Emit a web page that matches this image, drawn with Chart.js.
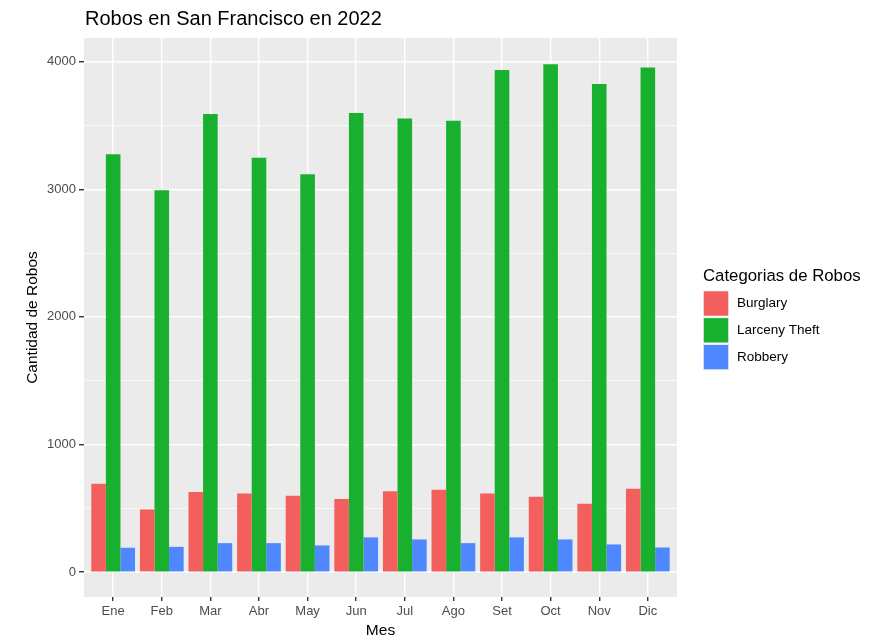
<!DOCTYPE html>
<html><head><meta charset="utf-8">
<script src="https://cdn.jsdelivr.net/npm/chart.js@4"></script>
<style>html,body{margin:0;padding:0;background:#fff}</style>
</head><body>
<canvas id="c" width="885" height="638"></canvas>
<script>
const months = ['Ene','Feb','Mar','Abr','May','Jun','Jul','Ago','Set','Oct','Nov','Dic'];
const burglary = [692,491,627,616,598,572,634,645,616,590,535,653];
const larceny = [3275,2993,3590,3246,3118,3598,3554,3536,3935,3980,3825,3953];
const robbery = [191,198,227,227,209,272,256,227,272,256,217,193];
const yTicks = [0,500,1000,1500,2000,2500,3000,3500,4000];
const seriesNames = ['Burglary','Larceny Theft','Robbery'];
const seriesColors = ['#F25F5C','#18B02E','#4F88FE'];
const chartTitle = 'Robos en San Francisco en 2022';
const xTitle = 'Mes';
const yTitle = 'Cantidad de Robos';
const legendTitle = 'Categorias de Robos';

const FONT = "'Liberation Sans', Arial, Helvetica, sans-serif";
const allSeries = [burglary, larceny, robbery];

const panelBg = {
  id: 'panelBg',
  beforeDraw(chart) {
    const {ctx, chartArea: a} = chart;
    ctx.save();
    ctx.fillStyle = '#EBEBEB';
    ctx.fillRect(a.left, a.top, a.right - a.left, a.bottom - a.top);
    ctx.restore();
  }
};

const extras = {
  id: 'extras',
  afterDraw(chart) {
    const {ctx, chartArea: a} = chart;
    ctx.save();
    ctx.fillStyle = '#000';
    ctx.font = '20px ' + FONT;
    ctx.textBaseline = 'middle';
    ctx.textAlign = 'left';
    ctx.fillText(chartTitle, a.left + 1, 19);
    const lx = 703;
    ctx.font = '16.8px ' + FONT;
    ctx.fillText(legendTitle, lx, 276);
    ctx.font = '13.5px ' + FONT;
    chart.data.datasets.forEach((ds, i) => {
      const y = 290.5 + i * 26.8;
      ctx.fillStyle = '#F2F2F2';
      ctx.fillRect(lx, y, 26, 26);
      ctx.fillStyle = ds.backgroundColor;
      ctx.fillRect(lx + 0.8, y + 0.8, 24.4, 24.4);
      ctx.fillStyle = '#000';
      ctx.fillText(ds.label, 737, y + 13);
    });
    ctx.restore();
  }
};

new Chart(document.getElementById('c'), {
  type: 'bar',
  data: {
    datasets: allSeries.map((vals, s) => ({
      label: seriesNames[s],
      backgroundColor: seriesColors[s],
      borderWidth: 0,
      data: vals.map((v, i) => ({x: i, y: v})),
      categoryPercentage: 0.9,
      barPercentage: 1.0
    }))
  },
  options: {
    responsive: false,
    animation: false,
    layout: {padding: {left: 0, right: 208, top: 38, bottom: 0}},
    plugins: {legend: {display: false}, tooltip: {enabled: false}, title: {display: false}},
    scales: {
      x: {
        type: 'linear',
        offset: false,
        min: -0.6, max: 11.6,
        afterBuildTicks(scale) { scale.ticks = months.map((m, i) => ({value: i})); },
        afterFit(scale) { scale.height = 41; },
        ticks: {
          autoSkip: false, maxRotation: 0, padding: 3,
          color: '#4D4D4D', font: {family: FONT, size: 13},
          callback: (v) => months[v]
        },
        grid: {offset: false, color: '#FFFFFF', lineWidth: 1.4, tickColor: '#333333', tickLength: 4, drawTicks: true},
        border: {display: false},
        title: {display: true, text: xTitle, color: '#000', font: {family: FONT, size: 15.5, lineHeight: 1}, padding: {top: 0, bottom: 0}}
      },
      y: {
        type: 'linear',
        min: -195, max: 4185,
        afterBuildTicks(scale) { scale.ticks = yTicks.map(v => ({value: v})); },
        afterFit(scale) { scale.width = 84; },
        ticks: {
          padding: 3, color: '#4D4D4D', font: {family: FONT, size: 13},
          callback: (v) => (v % 1000 === 0 ? String(v) : '')
        },
        grid: {
          color: '#FFFFFF',
          lineWidth: (c) => (c.tick && c.tick.value % 1000 === 0 ? 1.4 : 0.7),
          tickColor: (c) => (c.tick && c.tick.value % 1000 === 0 ? '#333333' : 'rgba(0,0,0,0)'),
          tickLength: 5, drawTicks: true
        },
        border: {display: false},
        title: {display: true, text: yTitle, color: '#000', font: {family: FONT, size: 15.5, lineHeight: 1}, padding: {top: 25, bottom: 0}}
      }
    }
  },
  plugins: [panelBg, extras]
});
</script>
</body></html>
